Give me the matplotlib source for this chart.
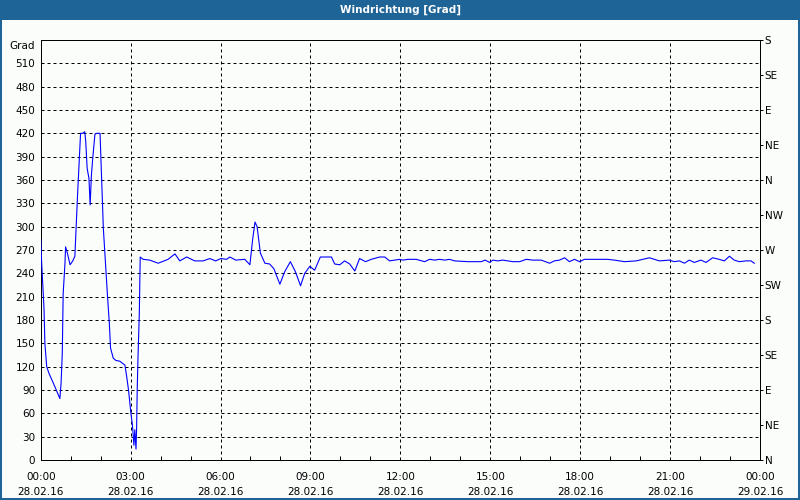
import matplotlib
matplotlib.use("Agg")
import matplotlib.pyplot as plt
from matplotlib.patches import Rectangle
from matplotlib.ticker import MultipleLocator
from matplotlib.transforms import ScaledTranslation

# ---- data (hours since 28.02.16 00:00, wind direction in degrees) ----
hours = [
    0.0, 0.03, 0.07, 0.11, 0.14, 0.2, 0.28, 0.42, 0.64, 0.68,
    0.72, 0.75, 0.81, 0.83, 0.89, 0.98, 1.07, 1.14, 1.18, 1.23,
    1.29, 1.33, 1.4, 1.47, 1.5, 1.55, 1.61, 1.65, 1.69, 1.73,
    1.81, 1.87, 1.98, 2.02, 2.09, 2.18, 2.23, 2.29, 2.33, 2.42,
    2.51, 2.64, 2.81, 2.87, 2.93, 3.01, 3.06, 3.11, 3.14, 3.18,
    3.2, 3.22, 3.25, 3.29, 3.32, 3.42, 3.64, 3.92, 4.25, 4.48,
    4.64, 4.87, 5.14, 5.42, 5.64, 5.84, 6.01, 6.2, 6.31, 6.51,
    6.81, 6.98, 7.07, 7.15, 7.22, 7.33, 7.48, 7.64, 7.78, 7.98,
    8.14, 8.33, 8.5, 8.67, 8.81, 8.98, 9.14, 9.33, 9.7, 9.81,
    9.98, 10.14, 10.31, 10.48, 10.64, 10.84, 11.03, 11.31, 11.48, 11.64,
    11.81, 11.98, 12.09, 12.25, 12.53, 12.81, 12.98, 13.14, 13.31, 13.48,
    13.64, 13.81, 14.25, 14.7, 14.83, 14.98, 15.09, 15.25, 15.42, 15.59,
    15.75, 15.98, 16.2, 16.42, 16.7, 16.98, 17.14, 17.31, 17.48, 17.64,
    17.81, 17.98, 18.14, 18.48, 18.92, 19.14, 19.48, 19.87, 20.09, 20.31,
    20.48, 20.64, 20.98, 21.14, 21.31, 21.48, 21.64, 21.81, 22.03, 22.2,
    22.42, 22.64, 22.81, 22.98, 23.14, 23.31, 23.53, 23.7, 23.81,
]
direction = [
    285, 255, 225, 195, 150, 120, 111, 99, 79, 99,
    137, 214, 253, 274, 266, 251, 256, 262, 298, 341,
    390, 420, 420, 422, 411, 375, 362, 328, 365, 385,
    419, 420, 420, 377, 298, 240, 210, 176, 144, 131,
    128, 127, 122, 107, 90, 60, 45, 19, 39, 14,
    41, 90, 137, 188, 261, 258, 257, 253, 258, 265,
    256, 261, 256, 256, 259, 256, 259, 258, 261, 257,
    258, 251, 283, 306, 300, 266, 253, 252, 246, 226,
    242, 255, 242, 224, 240, 249, 244, 261, 261, 252,
    251, 256, 252, 243, 259, 255, 258, 261, 261, 256,
    257, 258, 257, 258, 258, 255, 258, 257, 258, 257,
    258, 256, 255, 255, 257, 254, 257, 256, 257, 256,
    255, 255, 258, 257, 257, 253, 256, 257, 260, 255,
    258, 255, 258, 258, 258, 257, 255, 256, 258, 260,
    258, 256, 257, 255, 256, 253, 257, 254, 257, 254,
    260, 258, 256, 262, 257, 255, 256, 256, 253,
]

x_ticks = [0, 3, 6, 9, 12, 15, 18, 21, 24]
x_labels = ["00:00\n28.02.16", "03:00\n28.02.16", "06:00\n28.02.16",
            "09:00\n28.02.16", "12:00\n28.02.16", "15:00\n28.02.16",
            "18:00\n28.02.16", "21:00\n28.02.16", "00:00\n29.02.16"]
y_ticks = list(range(0, 541, 30))
y_labels = [str(v) for v in y_ticks[:-1]] + ["Grad"]
compass_ticks = list(range(0, 541, 45))
compass_labels = ["N", "NE", "E", "SE", "S", "SW", "W", "NW",
                  "N", "NE", "E", "SE", "S"]
title = "Windrichtung [Grad]"

# ---- styling ----
bar_blue = "#1e6496"
bg = "#fbfdfb"
fs = 7.5
plt.rcParams["font.family"] = ["DejaVu Sans"]

fig = plt.figure(figsize=(8, 5), dpi=100)
fig.patch.set_facecolor(bg)

# title bar + frame
fig.patches.append(Rectangle((0, 0.96), 1, 0.04, transform=fig.transFigure,
                             facecolor=bar_blue, edgecolor="none", zorder=0))
fig.patches.append(Rectangle((0, 0), 1, 1, transform=fig.transFigure,
                             fill=False, edgecolor=bar_blue, lw=2.9, zorder=5))
fig.text(0.5, 0.98, title, color="white", fontsize=fs, fontweight="bold",
         ha="center", va="center")

ax = fig.add_axes([40.7 / 800, 40 / 500, 719.3 / 800, 420 / 500])
ax.set_facecolor(bg)
ax.plot(hours, direction, color="#0000ff", lw=0.8, zorder=3)

ax.set_xlim(0, 24)
ax.set_ylim(0, 540)
ax.set_xticks(x_ticks)
ax.set_xticklabels(x_labels, fontsize=fs, linespacing=1.55)
ax.xaxis.set_minor_locator(MultipleLocator(1))
ax.tick_params(axis="x", which="major", length=0, pad=9)
ax.tick_params(axis="x", which="minor", direction="in", length=3,
               width=0.72, color="black")
ax.set_yticks(y_ticks)
ax.set_yticklabels(y_labels, fontsize=fs)
ax.tick_params(axis="y", length=0, pad=4)
# "Grad" sits slightly below the top edge in the original
grad_lbl = ax.get_yticklabels()[-1]
grad_lbl.set_transform(grad_lbl.get_transform() +
                       ScaledTranslation(0, -0.05, fig.dpi_scale_trans))

ax.grid(True, which="major", color="black", linestyle=(0, (3, 3)), lw=0.72)
for s in ax.spines.values():
    s.set_color("black")
    s.set_linewidth(0.72)

ax2 = ax.twinx()
ax2.set_ylim(0, 540)
ax2.set_yticks(compass_ticks)
ax2.set_yticklabels(compass_labels, fontsize=fs)
ax2.tick_params(axis="y", direction="out", length=2.5, width=0.72, pad=1)
for s in ax2.spines.values():
    s.set_visible(False)

fig.savefig("out.png", dpi=100, facecolor=bg)
